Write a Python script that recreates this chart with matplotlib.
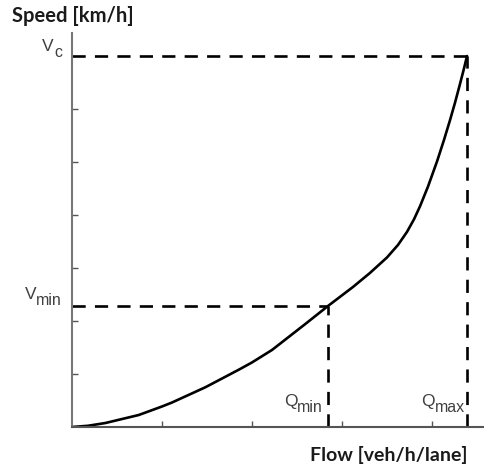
import matplotlib
matplotlib.use("Agg")
import matplotlib.pyplot as plt

plt.rcParams['font.family'] = ['Liberation Sans', 'DejaVu Sans']

# speed-flow curve (x in tick units, y in tick units)
flow = [0, 0.178, 0.370, 0.741, 1.0, 1.111, 1.481, 1.852, 2.0, 2.222, 2.592,
        2.844, 3.122, 3.311, 3.5, 3.622, 3.722, 3.8, 3.867, 3.956, 4.056,
        4.133, 4.2, 4.256, 4.311, 4.356, 4.389]
speed = [0, 0.023, 0.075, 0.226, 0.387, 0.462, 0.749, 1.08, 1.218, 1.453,
         1.943, 2.283, 2.642, 2.907, 3.199, 3.435, 3.681, 3.919, 4.165, 4.539,
         5.012, 5.415, 5.789, 6.121, 6.472, 6.768, 7.0]

q_min, q_max = 2.844, 4.389
v_min, v_c = 2.283, 7.0
x_ticks = [1, 2, 3, 4]
y_ticks = [1, 2, 3, 4, 5, 6]

fig = plt.figure(figsize=(4.84, 4.68), dpi=100)
ax = fig.add_axes([72/484, 41/468, 412/484, 394/468])

ax.plot(flow, speed, color='black', lw=1.9, solid_capstyle='round',
        solid_joinstyle='round')

dash = dict(color='black', lw=1.9, linestyle=(0, (5, 3.5)))
ax.plot([0, q_max], [v_c, v_c], **dash)
ax.plot([q_max, q_max], [0, v_c], **dash)
ax.plot([0, q_min], [v_min, v_min], **dash)
ax.plot([q_min, q_min], [0, v_min], **dash)

ax.set_xlim(0, 412/90)
ax.set_ylim(0, 394/53)
ax.spines['top'].set_visible(False)
ax.spines['right'].set_visible(False)
ax.spines['left'].set_color('#777777')
ax.spines['bottom'].set_color('#555555')
ax.spines['left'].set_linewidth(1.5)
ax.spines['bottom'].set_linewidth(1.5)
ax.set_xticks(x_ticks)
ax.set_yticks(y_ticks)
ax.tick_params(direction='in', length=4, width=1, colors='#555555',
               labelbottom=False, labelleft=False)


def sub_label(x, y, main, sub, dx_px, dy_px):
    # subscript placed right-aligned at the anchor, main letter to its left
    t = ax.annotate(sub, (x, y), xytext=(dx_px * 0.72, dy_px * 0.72),
                    textcoords='offset points', ha='right', va='baseline',
                    fontsize=11.5, color='#404040', annotation_clip=False)
    fig.canvas.draw()
    bb = t.get_window_extent()
    x0, _ = ax.transData.inverted().transform((bb.x0, 0))
    ax.annotate(main, (x0, y), xytext=(0, (dy_px + 6) * 0.72),
                textcoords='offset points', ha='right', va='baseline',
                fontsize=12.5, color='#404040', annotation_clip=False)


sub_label(0, v_c, 'V', 'c', -10, -1)
sub_label(0, v_min, 'V', 'min', -10, 1)
sub_label(q_min, 0, 'Q', 'min', -5, 15)
sub_label(q_max, 0, 'Q', 'max', -2, 15)

fig.text(12/484, 1 - 16/468, 'Speed [km/h]', fontsize=14.5, fontweight='bold',
         family=['Lato', 'DejaVu Sans'], color='#1a1a1a', va='center')
fig.text(468/484, 1 - 455/468, 'Flow [veh/h/lane]', fontsize=14,
         fontweight='bold', family=['Lato', 'DejaVu Sans'], color='#1a1a1a',
         va='center', ha='right')

fig.savefig('out.png', dpi=100)
